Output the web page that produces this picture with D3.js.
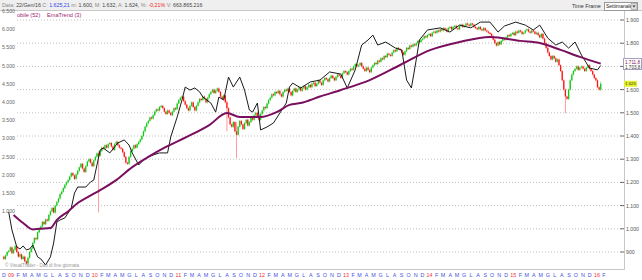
<!DOCTYPE html>
<head>
<meta charset="utf-8">
<script src="https://d3js.org/d3.v7.min.js"></script>
<style>
  body { margin: 0; background: #fff; }
  text { font-family: "Liberation Sans", Arial, sans-serif; }
</style>
</head>
<body>
<div id="chart"></div>
<script>
// weekly closes, first candle = week ending 5 Dec 2008
var firstWeek = new Date(2008, 11, 5);
var open0 = 880;
var closes = [
  870, 885, 900, 905, 920, 895, 910, 925, 900, 880,
  890, 870, 880, 860, 850, 875, 900, 915, 940, 960,
  955, 985, 1000, 1010, 1030, 1020, 1040, 1035, 1060, 1075,
  1090, 1070, 1100, 1115, 1130, 1150, 1160, 1175, 1190, 1200,
  1210, 1225, 1240, 1230, 1215, 1235, 1250, 1265, 1280, 1260,
  1245, 1270, 1290, 1300, 1285, 1270, 1295, 1310, 1325, 1315,
  1335, 1350, 1345, 1360, 1350, 1365, 1370, 1355, 1340, 1365,
  1375, 1360, 1350, 1345, 1330, 1310, 1285, 1280, 1310, 1335,
  1345, 1360, 1350, 1365, 1375, 1385, 1400, 1420, 1440, 1455,
  1465, 1480, 1475, 1490, 1505, 1515, 1510, 1525, 1530, 1520,
  1505, 1495, 1510, 1500, 1490, 1505, 1520, 1515, 1540, 1555,
  1565, 1570, 1550, 1535, 1520, 1510, 1530, 1545, 1525, 1510,
  1530, 1545, 1560, 1555, 1570, 1560, 1545, 1565, 1580, 1590,
  1600, 1585, 1595, 1605, 1590, 1570, 1560, 1575, 1545, 1520,
  1480, 1450, 1440, 1460, 1420, 1405, 1440, 1465, 1450, 1430,
  1455, 1470, 1445, 1460, 1480, 1470, 1490, 1500, 1485, 1470,
  1495, 1510, 1525, 1520, 1540, 1555, 1565, 1580, 1575, 1590,
  1585, 1595, 1580, 1570, 1590, 1600, 1595, 1605, 1590, 1575,
  1595, 1605, 1590, 1600, 1610, 1595, 1605, 1615, 1600, 1610,
  1620, 1610, 1625, 1630, 1615, 1625, 1640, 1630, 1620, 1640,
  1650, 1645, 1635, 1650, 1660, 1650, 1640, 1655, 1665, 1660,
  1650, 1670, 1680, 1675, 1665, 1680, 1690, 1685, 1700, 1710,
  1700, 1705, 1715, 1700, 1690, 1680, 1695, 1685, 1675, 1695,
  1705, 1715, 1710, 1725, 1720, 1735, 1730, 1745, 1740, 1755,
  1750, 1745, 1760, 1770, 1765, 1780, 1775, 1770, 1760, 1750,
  1765, 1780, 1775, 1790, 1785, 1795, 1790, 1800, 1810, 1805,
  1815, 1820, 1830, 1825, 1835, 1840, 1830, 1845, 1850, 1845,
  1855, 1850, 1860, 1855, 1865, 1860, 1850, 1865, 1870, 1860,
  1870, 1875, 1865, 1860, 1875, 1880, 1870, 1875, 1885, 1880,
  1875, 1885, 1880, 1870, 1865, 1860, 1870, 1860, 1855, 1865,
  1855, 1850, 1845, 1840, 1830, 1815, 1800, 1790, 1805, 1795,
  1810, 1820, 1815, 1825, 1835, 1830, 1840, 1845, 1835, 1850,
  1845, 1855, 1850, 1840, 1845, 1855, 1860, 1850, 1845, 1855,
  1850, 1840, 1845, 1835, 1825, 1840, 1820, 1800, 1780, 1760,
  1745, 1730, 1745, 1735, 1720, 1730, 1705, 1680, 1640, 1600,
  1570, 1560, 1600, 1640, 1665, 1680, 1690, 1700, 1685, 1695,
  1700, 1690, 1680, 1695, 1705, 1690, 1680, 1665, 1650, 1640,
  1610, 1600, 1625
];
// long shadows visible in the picture: [week, high, low]
var spikes = [[59, 1330, 1075], [139, 1550, 1425], [145, 1455, 1310], [350, 1600, 1503], [372, 1630, 1598]];

// Media mobile (52), purple
var maWeek = [6, 12, 18, 22, 29, 33, 40, 46, 53, 60, 70, 80, 90, 101, 114, 128, 139, 147, 160, 170, 178, 185, 197, 210, 228, 247, 266, 284, 303, 322, 334, 347, 359, 372];
var maVal = [1060, 1025, 997, 1000, 1003, 1038, 1075, 1111, 1140, 1167, 1210, 1266, 1310, 1353, 1396, 1447, 1499, 1482, 1482, 1503, 1534, 1542, 1570, 1598, 1641, 1706, 1771, 1805, 1827, 1810, 1801, 1771, 1741, 1711.8];

// black comparison line
var blackWeek = [3, 5, 8, 10, 12, 14, 16, 18, 21, 23, 26, 29, 31, 33, 35, 38, 40, 42, 44, 46, 51, 54, 56, 58, 60, 62, 66, 71, 75, 78, 80, 84, 87, 90, 93, 97, 102, 104, 108, 111, 113, 116, 119, 122, 124, 129, 132, 134, 137, 140, 143, 147, 150, 153, 155, 158, 160, 164, 168, 172, 176, 178, 180, 185, 191, 197, 203, 210, 214, 219, 223, 227, 230, 233, 238, 244, 248, 251, 254, 257, 259, 264, 272, 278, 284, 291, 297, 303, 308, 312, 319, 325, 330, 334, 339, 344, 348, 352, 356, 360, 365, 370, 372];
var blackVal = [1072, 995, 922, 913, 926, 909, 913, 930, 879, 870, 844, 879, 939, 1029, 1038, 1047, 1068, 1090, 1154, 1180, 1180, 1202, 1210, 1275, 1340, 1348, 1327, 1370, 1383, 1361, 1327, 1275, 1297, 1310, 1318, 1327, 1327, 1396, 1482, 1555, 1611, 1598, 1607, 1590, 1568, 1542, 1503, 1568, 1555, 1654, 1611, 1654, 1598, 1512, 1503, 1542, 1426, 1439, 1456, 1499, 1542, 1611, 1628, 1607, 1633, 1641, 1676, 1667, 1607, 1685, 1792, 1814, 1835, 1792, 1805, 1779, 1771, 1641, 1607, 1728, 1814, 1857, 1866, 1848, 1878, 1866, 1891, 1891, 1848, 1874, 1891, 1878, 1857, 1878, 1822, 1792, 1805, 1779, 1805, 1749, 1693, 1685, 1703.8];

var rightTicks = [900, 1000, 1100, 1200, 1300, 1400, 1500, 1600, 1700, 1800, 1900];
var leftTicks = [1000, 1500, 2000, 2500, 3000, 3500, 4000, 4500, 5000, 5500, 6000, 6500];
var monthLetters = ["G", "F", "M", "A", "M", "G", "L", "A", "S", "O", "N", "D"];

var W = 642, H = 280;
var svg = d3.select("#chart").append("svg").attr("width", W).attr("height", H);

var it = d3.formatLocale({decimal: ",", thousands: ".", grouping: [3], currency: ["", "€"]});
var fmtInt = it.format(",d"), fmt1 = it.format(",.1f");

var weekDate = function(i) { return d3.timeDay.offset(firstWeek, 7 * i); };

var x = d3.scaleTime().domain([new Date(2008, 11, 1), new Date(2016, 1, 1)]).range([3, 603]);
var yR = d3.scaleLinear().domain([900, 1900]).range([252, 20]);
var yL = d3.scaleLinear().domain([1000, 6500]).range([211.2, 11]);

// header bar
svg.append("rect").attr("x", 0).attr("y", 0).attr("width", W).attr("height", 10).attr("fill", "#efefef");
svg.append("line").attr("x1", 0).attr("x2", W).attr("y1", 10.5).attr("y2", 10.5).attr("stroke", "#c8c8c8");
var hdr = svg.append("text").attr("x", 2).attr("y", 7).attr("font-size", 5.3).attr("fill", "#777");
var parts = [["Data: ", "#888"], ["22/Gen/16 ", "#444"], ["C: ", "#888"], ["1.625,21 ", "#3344ee"], ["m: ", "#888"], ["1.600, ", "#444"],
  ["M: ", "#888"], ["1.632, ", "#444"], ["A: ", "#888"], ["1.624, ", "#444"], ["%: ", "#888"], ["-0,21% ", "#ee2222"], ["V: ", "#888"], ["663.865.216", "#444"]];
parts.forEach(function(p) { hdr.append("tspan").attr("fill", p[1]).text(p[0]); });

svg.append("text").attr("x", 572).attr("y", 8).attr("font-size", 5.4).attr("fill", "#333").text("Time Frame");
svg.append("rect").attr("x", 604.5).attr("y", 2.5).attr("width", 33).attr("height", 8).attr("fill", "#fff").attr("stroke", "#999");
svg.append("text").attr("x", 606).attr("y", 8.3).attr("font-size", 5).attr("fill", "#222").text("Settimanale");
svg.append("rect").attr("x", 631).attr("y", 3.5).attr("width", 6).attr("height", 6).attr("fill", "#ddd").attr("stroke", "#888").attr("stroke-width", 0.5);
svg.append("path").attr("d", "M632.5,5.5 L635.5,5.5 L634,7.5 Z").attr("fill", "#333");

// plot frame
svg.append("line").attr("x1", 624.5).attr("x2", 624.5).attr("y1", 11).attr("y2", 270).attr("stroke", "#c8c8c8");
svg.append("line").attr("x1", 0).attr("x2", 624.5).attr("y1", 269.5).attr("y2", 269.5).attr("stroke", "#c8c8c8");

// grid + right axis
rightTicks.forEach(function(v) {
  svg.append("line").attr("x1", 17).attr("x2", 620).attr("y1", yR(v)).attr("y2", yR(v))
    .attr("stroke", "#b0b0b0").attr("stroke-width", 0.8).attr("stroke-dasharray", "1,2");
  svg.append("line").attr("x1", 620).attr("x2", 624).attr("y1", yR(v)).attr("y2", yR(v)).attr("stroke", "#666");
  svg.append("text").attr("x", 626).attr("y", yR(v) + 2).attr("font-size", 5.2).attr("fill", "#555").text(fmtInt(v));
});
leftTicks.forEach(function(v) {
  svg.append("text").attr("x", 2).attr("y", yL(v) + 2).attr("font-size", 5.2).attr("fill", "#666").text(fmtInt(v));
});

// candles
var candles = closes.map(function(c, i) {
  var o = i > 0 ? closes[i - 1] : open0;
  return {date: weekDate(i), o: o, c: c, h: Math.max(o, c), l: Math.min(o, c)};
});
spikes.forEach(function(s) { candles[s[0]].h = Math.max(candles[s[0]].h, s[1]); candles[s[0]].l = Math.min(candles[s[0]].l, s[2]); });

var cg = svg.append("g");
cg.selectAll("line").data(candles).enter().append("line")
  .attr("x1", function(d) { return x(d.date); }).attr("x2", function(d) { return x(d.date); })
  .attr("y1", function(d) { return yR(d.h) - 1; }).attr("y2", function(d) { return yR(d.l) + 1; })
  .attr("stroke", function(d) { return d.c >= d.o ? "#8fe38f" : "#ff9a9a"; }).attr("stroke-width", 1);
cg.selectAll("rect").data(candles).enter().append("rect")
  .attr("x", function(d) { return x(d.date) - 0.65; }).attr("width", 1.3)
  .attr("y", function(d) { return yR(Math.max(d.o, d.c)); })
  .attr("height", function(d) { return Math.max(1, Math.abs(yR(d.o) - yR(d.c))); })
  .attr("fill", function(d) { return d.c >= d.o ? "#12c812" : "#ff1414"; });

// black line
var black = blackWeek.map(function(w, i) { return [weekDate(w), blackVal[i]]; });
svg.append("path").datum(black).attr("fill", "none").attr("stroke", "#1a1a1a").attr("stroke-width", 1)
  .attr("d", d3.line().x(function(d) { return x(d[0]); }).y(function(d) { return yR(d[1]); }));

// moving average
var ma = maWeek.map(function(w, i) { return [weekDate(w), maVal[i]]; });
svg.append("path").datum(ma).attr("fill", "none").attr("stroke", "#7a0f5e").attr("stroke-width", 2)
  .attr("d", d3.line().curve(d3.curveMonotoneX).x(function(d) { return x(d[0]); }).y(function(d) { return yR(d[1]); }));

// legend
svg.append("text").attr("x", 17).attr("y", 17).attr("font-size", 5.6).attr("fill", "#a0206e").text("obile (52)");
svg.append("text").attr("x", 47).attr("y", 17).attr("font-size", 5.6).attr("fill", "#a0206e").text("EmaTrend (3)");

// last value tags
svg.append("rect").attr("x", 623.5).attr("y", 58.5).attr("width", 18).attr("height", 11).attr("fill", "#fff").attr("stroke", "#a9a0c0");
svg.append("text").attr("x", 625).attr("y", 63.5).attr("font-size", 4.6).attr("fill", "#7a0f5e").text(fmt1(maVal[maVal.length - 1]));
svg.append("text").attr("x", 625).attr("y", 68.5).attr("font-size", 4.6).attr("fill", "#333").text(fmt1(blackVal[blackVal.length - 1]));
var last = closes[closes.length - 1];
svg.append("rect").attr("x", 624).attr("y", yR(last) - 3).attr("width", 13).attr("height", 6).attr("fill", "#e4f22a");
svg.append("text").attr("x", 625).attr("y", yR(last) + 1.5).attr("font-size", 4.4).attr("fill", "#333").text(fmtInt(last));

// copyright
svg.append("text").attr("x", 5).attr("y", 267).attr("font-size", 4.6).attr("fill", "#999").text("© VisualTrader - Dati di fine giornata");

// month labels
var months = d3.timeMonth.range(new Date(2008, 11, 1), new Date(2016, 1, 2));
svg.selectAll(".ml").data(months).enter().append("text")
  .attr("x", function(d) { return x(d) + 1; }).attr("y", 277).attr("text-anchor", "middle").attr("font-size", 5.4)
  .attr("fill", function(d) { return d.getMonth() === 0 ? "#ee3333" : "#4450e0"; })
  .text(function(d) { return d.getMonth() === 0 ? String(d.getFullYear()).slice(2) : monthLetters[d.getMonth()]; });
</script>
</body>
